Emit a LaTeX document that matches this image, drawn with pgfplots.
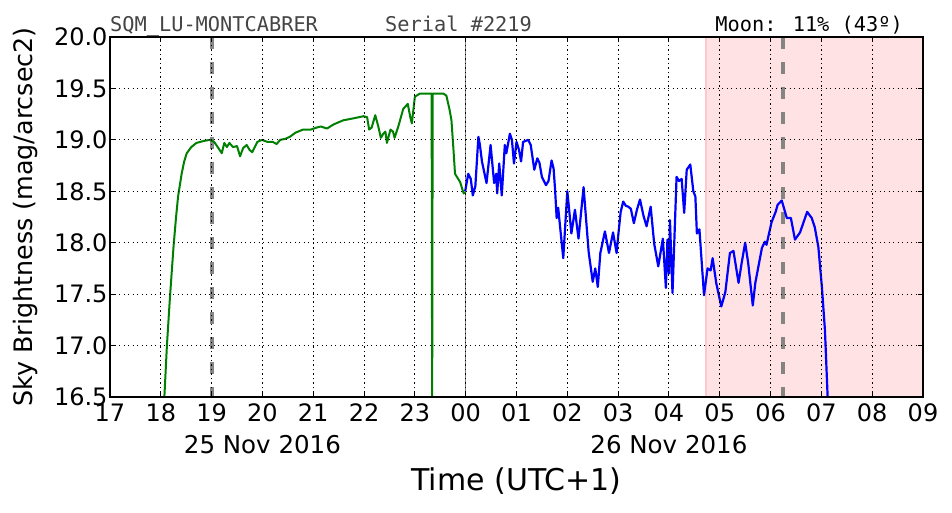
\documentclass[border=0pt]{standalone}
\usepackage{fontspec}
\setmainfont{DejaVu Sans}
\newfontfamily\monofont{DejaVu Sans Mono}
\usepackage{pgfplots}
\pgfplotsset{compat=1.18}
\definecolor{mplgreen}{rgb}{0,0.5,0}
\definecolor{mplblue}{rgb}{0,0,1}
\definecolor{pinkfill}{RGB}{255,226,228}
\definecolor{pinkedge}{RGB}{255,200,205}
\definecolor{titlegray}{RGB}{68,68,68}

\pgfplotstableread{
x y
18.06 16.40
18.12 17.00
18.18 17.47
18.25 17.96
18.30 18.25
18.34 18.45
18.41 18.67
18.46 18.79
18.51 18.87
18.60 18.93
18.70 18.97
18.85 18.99
18.97 19.00
19.05 18.98
19.12 18.93
19.20 18.87
19.25 18.97
19.30 18.93
19.35 18.97
19.42 18.93
19.50 18.94
19.56 18.84
19.62 18.92
19.69 18.95
19.75 18.90
19.80 18.88
19.90 18.98
19.99 19.00
20.10 18.98
20.20 18.98
20.28 18.96
20.35 19.00
20.45 19.01
20.54 19.03
20.65 19.07
20.80 19.10
20.95 19.10
21.07 19.12
21.15 19.13
21.27 19.11
21.40 19.15
21.59 19.19
21.80 19.21
21.99 19.23
22.06 19.22
22.10 19.10
22.15 19.12
22.22 19.24
22.28 19.13
22.33 19.02
22.38 19.06
22.42 19.08
22.45 18.97
22.52 19.10
22.57 19.08
22.60 19.02
22.68 19.14
22.77 19.30
22.86 19.35
22.91 19.22
22.94 19.16
23.00 19.42
23.10 19.45
23.33 19.45
23.34 16.30
23.35 19.45
23.56 19.45
23.62 19.43
23.68 19.30
23.72 19.19
23.76 18.90
23.79 18.67
23.89 18.59
23.96 18.48
24.00 18.49
}\greendata

\pgfplotstableread{
x y
23.99 18.50
24.05 18.67
24.10 18.62
24.14 18.46
24.19 18.55
24.25 19.03
24.28 18.95
24.32 18.79
24.41 18.58
24.49 18.95
24.56 18.58
24.60 18.67
24.62 18.48
24.66 18.77
24.71 18.46
24.77 18.95
24.80 18.87
24.87 19.06
24.91 19.00
24.95 18.77
25.00 18.98
25.05 18.90
25.09 18.79
25.13 18.98
25.23 19.00
25.28 18.95
25.35 18.71
25.41 18.82
25.45 18.78
25.50 18.64
25.58 18.56
25.63 18.60
25.69 18.80
25.73 18.72
25.76 18.51
25.79 18.24
25.82 18.34
25.92 17.85
26.00 18.50
26.04 18.30
26.08 18.09
26.15 18.32
26.22 18.04
26.32 18.54
26.42 17.91
26.50 17.62
26.55 17.75
26.60 17.57
26.65 17.90
26.74 18.11
26.82 17.90
26.90 18.10
26.97 17.90
27.00 18.06
27.05 18.30
27.10 18.40
27.15 18.36
27.20 18.35
27.25 18.33
27.31 18.19
27.37 18.32
27.43 18.42
27.50 18.26
27.56 18.16
27.64 18.35
27.71 17.99
27.79 17.77
27.85 17.95
27.88 18.04
27.94 17.56
27.97 18.03
28.00 17.70
28.02 18.22
28.07 17.51
28.15 18.64
28.20 18.60
28.25 18.62
28.30 18.29
28.35 18.71
28.42 18.76
28.48 18.50
28.52 18.45
28.55 18.09
28.60 18.13
28.69 17.49
28.76 17.75
28.82 17.73
28.86 17.85
28.93 17.61
29.03 17.38
29.11 17.52
29.20 17.90
29.27 17.92
29.37 17.61
29.43 17.80
29.50 18.00
29.56 17.80
29.65 17.39
29.70 17.61
29.83 17.95
29.89 18.01
29.92 17.98
30.02 18.20
30.10 18.30
30.14 18.37
30.22 18.41
30.32 18.24
30.40 18.24
30.48 18.03
30.58 18.10
30.65 18.20
30.72 18.30
30.81 18.24
30.87 18.15
30.94 17.96
31.01 17.57
31.07 17.15
31.12 16.54
31.15 16.20
}\bluedata

\begin{document}
\begin{tikzpicture}
\useasboundingbox (0,0) rectangle (952pt,512pt);
\begin{axis}[
  at={(110pt,115pt)}, anchor=south west,
  scale only axis, width=813pt, height=360pt,
  xmin=17, xmax=33, ymin=16.5, ymax=20,
  axis on top,
  clip mode=individual,
  xtick={17,...,33},
  xticklabels={17,18,19,20,21,22,23,00,01,02,03,04,05,06,07,08,09},
  ytick={16.5,17,17.5,18,18.5,19,19.5,20},
  /pgf/number format/assume math mode=true,
  tick label style={font=\fontsize{24}{26}\selectfont},
  xticklabel style={yshift=-3pt},
  yticklabel style={xshift=1pt, /pgf/number format/.cd, fixed, fixed zerofill, precision=1},
  tick align=inside, major tick length=5pt,
  tick style={black, line width=1pt},
  grid=major,
  major grid style={black, line width=0.9pt, dash pattern=on 1.3pt off 3.2pt},
  axis line style={line width=1.5pt},
  xlabel={Time (UTC+1)},
  ylabel={Sky Brightness (mag/arcsec2)},
  every axis x label/.style={at={(axis description cs:0.5,-0.233)}, anchor=center, font=\fontsize{30}{32}\selectfont},
  every axis y label/.style={at={(axis description cs:-0.1045,0.5)}, anchor=center, rotate=90, font=\fontsize{25.4}{27}\selectfont},
]
\addplot[fill=pinkfill, draw=none] coordinates {(28.73,16.5) (28.73,20) (33,20) (33,16.5)} -- cycle;
\addplot[pinkedge, line width=1.5pt] coordinates {(28.73,16.5) (28.73,20)};
\addplot[gray, line width=1.6pt] coordinates {(24,16.5) (24,20)};
\addplot[gray!95!black, opacity=0.9, line width=4pt, dash pattern=on 12pt off 13pt] coordinates {(19.0,20) (19.0,16.5)};
\addplot[gray!95!black, opacity=0.9, line width=4pt, dash pattern=on 12pt off 13pt] coordinates {(30.25,20) (30.25,16.5)};
\addplot[mplgreen, line width=2pt, line join=round] table[x=x,y=y] {\greendata};
\addplot[mplblue, line width=2.2pt, line join=round] table[x=x,y=y] {\bluedata};

\node[anchor=center, font=\fontsize{24.5}{26}\selectfont] at (axis description cs:0.1875,-0.1333) {25 Nov 2016};
\node[anchor=center, font=\fontsize{24.5}{26}\selectfont] at (axis description cs:0.6875,-0.1333) {26 Nov 2016};
\node[anchor=base west, inner sep=0pt, text=titlegray, font=\monofont\fontsize{20.3}{22}\selectfont] at (axis description cs:0,1.0165) {SQM\_LU-MONTCABRER};
\node[anchor=base west, inner sep=0pt, text=titlegray, font=\monofont\fontsize{20.3}{22}\selectfont] at (axis description cs:0.3383,1.0165) {Serial \#2219};
\node[anchor=base east, inner sep=0pt, text=black, font=\monofont\fontsize{20.3}{22}\selectfont] at (axis description cs:0.9754,1.0165) {Moon: 11\% (43º)};
\end{axis}
\end{tikzpicture}
\end{document}
